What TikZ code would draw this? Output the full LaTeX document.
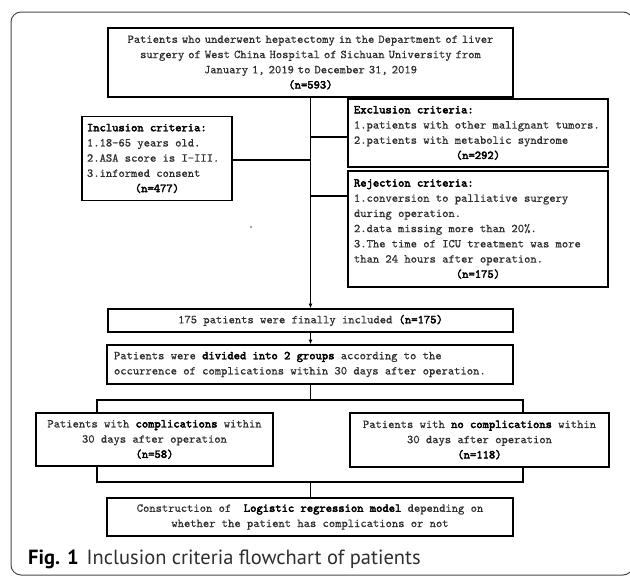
\documentclass[tikz,border=0pt]{standalone}
\usepackage{fontspec}
\usetikzlibrary{arrows.meta}
\newfontfamily\cnfont{lmmono10-regular.otf}[BoldFont=lmmono10-regular.otf, UprightFeatures={FakeBold=0.6}, BoldFeatures={FakeBold=3}]
\newfontfamily\capfont{PT Sans}
\definecolor{txt}{HTML}{2E2E2E}
\definecolor{framecol}{HTML}{4A4A4A}
\tikzset{
  box/.style={draw=black, line width=1.6pt, inner sep=0pt, text=txt,
    font=\cnfont\fontsize{12.0}{15.2}\selectfont},
  conn/.style={line width=1.6pt, draw=black},
  arr/.style={conn, -{Latex[length=4.5pt,width=4pt]}},
}
\newcommand{\bx}[1]{\textbf{\color{black}#1}}
\begin{document}
\begin{tikzpicture}[x=1pt,y=-1pt]
\useasboundingbox (0,0) rectangle (630,576);
% outer frame
\draw[framecol, line width=1pt, rounded corners=10pt] (11,12) rectangle (633,575);

% boxes
\node[box, minimum width=405pt, minimum height=69pt, text width=395pt, align=center] (top) at (310.5,62.5)
 {Patients who underwent hepatectomy in the Department of liver\\
  surgery of West China Hospital of Sichuan University from\\
  January 1, 2019 to December 31, 2019\\
  \bx{(n=593)}};

\node[box, minimum width=150pt, minimum height=84pt] (incl) at (157,158.5)
 {\begin{minipage}{140pt}\raggedright
  \bx{Inclusion criteria:}\\
  1.18-65 years old.\\
  2.ASA score is I-III.\\
  3.informed consent\par\centering\bx{(n=477)}\end{minipage}};

\node[box, minimum width=260pt, minimum height=68pt] (excl) at (478,133)
 {\begin{minipage}{248pt}\raggedright
  \bx{Exclusion criteria:}\\
  1.patients with other malignant tumors.\\
  2.patients with metabolic syndrome\par\centering\bx{(n=292)}\end{minipage}};

\node[box, minimum width=260pt, minimum height=116pt] (rej) at (478,229)
 {\begin{minipage}{248pt}\raggedright
  \bx{Rejection criteria:}\\
  1.conversion to palliative surgery\\
  during operation.\\
  2.data missing more than 20\%.\\
  3.The time of ICU treatment was more\\
  than 24 hours after operation.\par\centering\bx{(n=175)}\end{minipage}};

\node[box, minimum width=405pt, minimum height=23pt, align=center] (fin) at (310.5,320.5)
 {175 patients were finally included \bx{(n=175)}};

\node[box, minimum width=406pt, minimum height=39pt] (div) at (310,364.5)
 {\begin{minipage}{392pt}\raggedright
  Patients were \bx{divided into 2 groups} according to the\\
  occurrence of complications within 30 days after operation.\end{minipage}};

\node[box, minimum width=237pt, minimum height=53pt, align=center] (comp) at (154.5,439.5)
 {Patients with \bx{complications} within\\
  30 days after operation\\
  \bx{(n=58)}};

\node[box, minimum width=259pt, minimum height=54pt, align=center] (nocomp) at (479.5,440)
 {Patients with \bx{no complications} within\\
  30 days after operation\\
  \bx{(n=118)}};

\node[box, minimum width=406pt, minimum height=38pt, align=center] (cons) at (310,517)
 {Construction of\ \ \bx{Logistic regression model} depending on\\
  whether the patient has complications or not};

% junction coordinates
\coordinate (jE) at (310.5,137);
\coordinate (jI) at (310.5,160);
\coordinate (jR) at (310.5,196);
\coordinate (sL) at (97,400);
\coordinate (sR) at (523,400);
\coordinate (bL) at (97,482);
\coordinate (bR) at (523,482);

% connectors
\draw[arr] (top.south) -- (fin.north);
\draw[conn] (excl.west |- jE) -- (jE);
\draw[conn] (incl.east |- jI) -- (jI);
\draw[conn] (rej.west |- jR) -- (jR);
\draw[arr] (fin.south) -- (fin.south |- div.north);
\draw[conn] (fin.south |- div.south) -- (fin.south |- sL);
\draw[conn] (sL |- comp.north) -- (sL) -- (sR) -- (sR |- nocomp.north);
\draw[conn] (bL |- comp.south) -- (bL) -- (bR) -- (bR |- nocomp.south);
\draw[conn] (fin.south |- bL) -- (fin.south |- cons.north);

% stray dot
\fill[black!70] (251,227) circle (0.8pt);

% caption
\node[anchor=base west, inner sep=0pt, font=\capfont\fontsize{20.5}{22}\selectfont, text=txt] (cap) at (28,564)
 {\textbf{\color{black}Fig. 1}\hspace{8pt}Inclusion criteria flowchart of patients};
\end{tikzpicture}
\end{document}
